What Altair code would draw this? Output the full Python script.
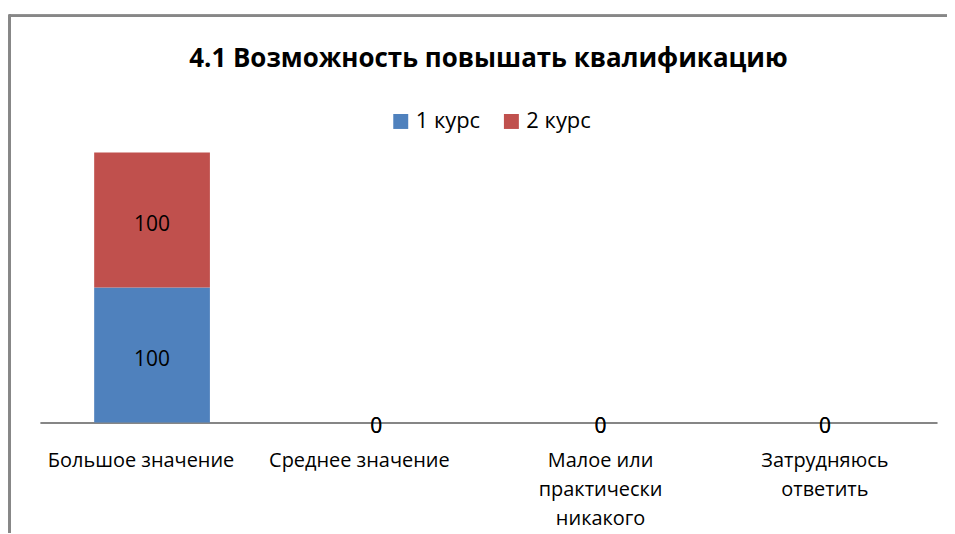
import altair as alt
import pandas as pd

categories = ["Большое значение", "Среднее значение", "Малое или практически никакого", "Затрудняюсь ответить"]
series = ["1 курс", "2 курс"]
values_1 = [100, 0, 0, 0]
values_2 = [100, 0, 0, 0]
colors = ["#4F81BD", "#C0504D"]

rows = []
for s, vals in zip(series, [values_1, values_2]):
    for c, v in zip(categories, vals):
        rows.append({"cat": c, "series": s, "value": v, "order": series.index(s)})
df = pd.DataFrame(rows)

FONT = "Open Sans"

base = alt.Chart(df).transform_stack(
    stack="value", groupby=["cat"], as_=["y0", "y1"], sort=[alt.SortField("order")]
).transform_calculate(mid="(datum.y0 + datum.y1) / 2")

xenc = alt.X(
    "cat:N", sort=categories, title=None,
    scale=alt.Scale(paddingInner=0.484, paddingOuter=0.242),
    axis=alt.Axis(
        labelAngle=0, ticks=False, grid=False, domainColor="#868686", domainWidth=2,
        labelFont=FONT, labelFontSize=20, labelColor="#000000", labelPadding=28,
        labelLineHeight=29, labelLimit=300,
        labelOffset={
            "condition": [
                {"test": "datum.value == 'Большое значение'", "value": -11},
                {"test": "datum.value == 'Среднее значение'", "value": -17},
            ],
            "value": 0,
        },
        labelExpr="datum.value == 'Малое или практически никакого' ? ['Малое или', 'практически', 'никакого'] : datum.value == 'Затрудняюсь ответить' ? ['Затрудняюсь', 'ответить'] : datum.value",
    ),
)
yscale = alt.Scale(domain=[0, 200], nice=False)

bars = base.mark_bar().encode(
    x=xenc,
    y=alt.Y("y0:Q", scale=yscale, axis=None),
    y2="y1:Q",
    color=alt.Color(
        "series:N", scale=alt.Scale(domain=series, range=colors), title=None,
        legend=alt.Legend(
            orient="none", legendX=351, legendY=-42, direction="horizontal",
            symbolType="square", symbolSize=225, symbolStrokeWidth=0,
            labelFont=FONT, labelFontSize=22, labelColor="#000000",
            columnPadding=20, labelOffset=4,
        ),
    ),
)

labels = base.mark_text(font=FONT, fontSize=21, color="#000000", baseline="middle", dy=5).encode(
    x=alt.X("cat:N", sort=categories),
    y=alt.Y("mid:Q", scale=yscale),
    text="value:Q",
)

frame_top = alt.Chart(df).mark_rule(color="#878787", strokeWidth=2).encode(
    x=alt.value(-31), x2=alt.value(930), y=alt.value(-137)
)
frame_left = alt.Chart(df).mark_rule(color="#878787", strokeWidth=2).encode(
    x=alt.value(-30.5), y=alt.value(-138), y2=alt.value(400)
)

chart = alt.layer(frame_top, frame_left, bars, labels).properties(
    width=900, height=271,
    title=alt.TitleParams(
        "4.1 Возможность повышать квалификацию", font=FONT, fontSize=26,
        fontWeight="bold", color="#000000", anchor="middle", offset=0, dy=58,
    ),
    padding={"left": 32, "top": 144, "right": 10, "bottom": 110},
    autosize=alt.AutoSizeParams(type="none"),
).configure_view(stroke=None)

chart.save("out.html", embed_options={"renderer": "svg", "actions": False})
